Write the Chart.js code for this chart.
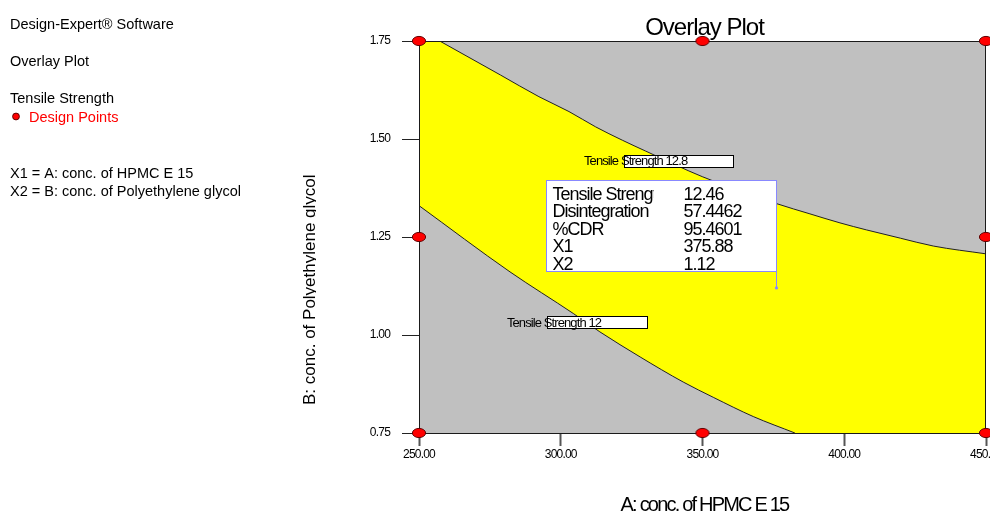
<!DOCTYPE html>
<html>
<head>
<meta charset="utf-8">
<style>
  html, body { margin: 0; padding: 0; background: #ffffff; overflow: hidden; }
  #wrap { width: 990px; height: 513px; position: relative; }
</style>
<script src="https://cdn.jsdelivr.net/npm/chart.js@4.4.1/dist/chart.umd.min.js"></script>
</head>
<body>
<div id="wrap"><canvas id="c" width="990" height="513"></canvas></div>
<script>
// Axis ticks
const xTicks = [250, 300, 350, 400, 450];
const yTicks = [0.75, 1.00, 1.25, 1.50, 1.75];

// Design points (face-centred composite design)
const designX = [250, 350, 450, 250, 350, 450, 250, 350, 450];
const designY = [1.75, 1.75, 1.75, 1.25, 1.25, 1.25, 0.75, 0.75, 0.75];

// Tensile Strength = 12.8 contour (upper bound of the window)
const ts128X = [257.3, 278.8, 292.3, 302.9, 312.3, 321.7, 330.0, 349.9, 376.2, 387.9, 398.5, 407.9, 419.8, 431.4, 450.0];
const ts128Y = [1.750, 1.663, 1.608, 1.570, 1.531, 1.497, 1.469, 1.404, 1.335, 1.309, 1.286, 1.268, 1.247, 1.227, 1.207];

// Tensile Strength = 12 contour (lower bound of the window)
const ts12X = [250.0, 282.1, 304.4, 313.8, 328.0, 343.2, 353.8, 367.9, 382.6];
const ts12Y = [1.330, 1.161, 1.055, 1.008, 0.944, 0.880, 0.841, 0.792, 0.750];

// Flag read-out
const flagNames  = ['Tensile Strength', 'Disintegration', '%CDR', 'X1', 'X2'];
const flagValues = ['12.46', '57.4462', '95.4601', '375.88', '1.12'];

// Contour labels (text, anchor at left/middle of the text in data units)
const contourLabelText = ['Tensile Strength 12.8', 'Tensile Strength 12'];
const contourLabelX = [308.2, 281.0];
const contourLabelY = [1.444, 1.033];

const FONT = "'Liberation Sans', Arial, Helvetica, sans-serif";

function toPoints(xs, ys) { return xs.map((x, i) => ({ x: x, y: ys[i] })); }

// Red elliptical marker used for the design points
function makeMarker() {
  const c = document.createElement('canvas');
  c.width = 16; c.height = 12;
  const g = c.getContext('2d');
  g.beginPath();
  g.ellipse(8, 6, 6.6, 4.6, 0, 0, Math.PI * 2);
  g.fillStyle = '#ff0000';
  g.fill();
  g.lineWidth = 1;
  g.strokeStyle = '#600000';
  g.stroke();
  return c;
}

function drawText(ctx, str, x, y, font, color, align, spacing) {
  ctx.save();
  ctx.font = font;
  ctx.fillStyle = color;
  ctx.textAlign = align || 'left';
  ctx.textBaseline = 'alphabetic';
  if ('letterSpacing' in ctx) ctx.letterSpacing = spacing || '0px';
  ctx.fillText(str, x, y);
  ctx.restore();
}

// Plot background (the feasible window colour) painted under the grey fills
const backgroundPlugin = {
  id: 'windowBackground',
  beforeDatasetsDraw(chart) {
    const a = chart.chartArea, ctx = chart.ctx;
    ctx.save();
    ctx.fillStyle = '#ffff00';
    ctx.fillRect(a.left, a.top, a.right - a.left, a.bottom - a.top);
    ctx.restore();
  },
  beforeDatasetDraw(chart, args) {
    if (args.index !== 0) return;
    // frame of the plot, drawn under the design points
    const a = chart.chartArea, ctx = chart.ctx;
    ctx.save();
    ctx.strokeStyle = '#1a1a1a';
    ctx.lineWidth = 1;
    ctx.strokeRect(a.left + 0.5, a.top + 0.5, a.right - a.left - 1, a.bottom - a.top);
    ctx.restore();
  }
};

// Contour labels and the flag read-out box
const annotationPlugin = {
  id: 'overlayAnnotations',
  afterDatasetsDraw(chart) {
    const ctx = chart.ctx, xs = chart.scales.x, ys = chart.scales.y;

    // contour labels
    const lf = '13px ' + FONT;
    for (let i = 0; i < contourLabelText.length; i++) {
      const tx = xs.getPixelForValue(contourLabelX[i]);
      const ty = ys.getPixelForValue(contourLabelY[i]);
      ctx.save();
      ctx.font = lf;
      if ('letterSpacing' in ctx) ctx.letterSpacing = '-0.9px';
      const w = ctx.measureText(contourLabelText[i]).width;
      ctx.restore();
      const bx = Math.round(tx + 40) + 0.5, by = Math.round(ty - 6) + 0.5;
      const bw = Math.round(w + 6);
      ctx.save();
      ctx.fillStyle = '#ffffff';
      ctx.fillRect(bx, by, bw, 12);
      ctx.strokeStyle = '#000000';
      ctx.lineWidth = 1;
      ctx.strokeRect(bx, by, bw, 12);
      ctx.restore();
      drawText(ctx, contourLabelText[i], tx, ty + 4.5, lf, '#000000', 'left', '-0.9px');
    }

    // flag: stem from the chosen point up to the read-out box
    const fx = xs.getPixelForValue(parseFloat(flagValues[3]));
    const fy = ys.getPixelForValue(parseFloat(flagValues[4]));
    const bw = 230, bh = 91;
    const right = Math.round(fx) + 0.5, bottom = Math.round(fy - 17) + 0.5;
    const left = right - bw, top = bottom - bh;
    ctx.save();
    ctx.strokeStyle = '#8888ff';
    ctx.lineWidth = 1;
    ctx.beginPath();
    ctx.moveTo(right, bottom);
    ctx.lineTo(right, fy);
    ctx.stroke();
    ctx.fillStyle = '#8888ff';
    ctx.beginPath();
    ctx.arc(right, fy, 1.6, 0, Math.PI * 2);
    ctx.fill();
    ctx.fillStyle = '#ffffff';
    ctx.fillRect(left, top, bw, bh);
    ctx.strokeRect(left, top, bw, bh);
    ctx.restore();

    const rf = '18px ' + FONT;
    for (let i = 0; i < flagNames.length; i++) {
      const by = top + 19 + i * 17.5;
      ctx.save();
      ctx.beginPath();
      ctx.rect(left + 1, top + 1, 106, bh - 2);
      ctx.clip();
      drawText(ctx, flagNames[i], left + 6, by, rf, '#000000', 'left', '-1px');
      ctx.restore();
      drawText(ctx, flagValues[i], left + 137, by, rf, '#000000', 'left', '-1px');
    }
  }
};

// Title, axis titles and the side legend
const textPlugin = {
  id: 'overlayTexts',
  beforeDraw(chart) {
    if ('letterSpacing' in chart.ctx) chart.ctx.letterSpacing = '-0.8px';
  },
  afterDraw(chart) {
    const ctx = chart.ctx, a = chart.chartArea;
    const cx = (a.left + a.right) / 2;

    drawText(ctx, 'Overlay Plot', cx + 2, 35, '24px ' + FONT, '#000000', 'center', '-1px');
    drawText(ctx, 'A: conc. of HPMC E 15', cx + 2, 511, '20px ' + FONT, '#000000', 'center', '-1.8px');

    // vertical axis title, clipped at its baseline
    ctx.save();
    ctx.beginPath();
    ctx.rect(0, 0, 316, 513);
    ctx.clip();
    ctx.translate(315, 405);
    ctx.rotate(-Math.PI / 2);
    drawText(ctx, 'B: conc. of Polyethylene glycol', 0, 0, '17px ' + FONT, '#000000', 'left', '0px');
    ctx.restore();

    const sf = '14.5px ' + FONT;
    drawText(ctx, 'Design-Expert\u00AE Software', 10, 29, sf, '#000000');
    drawText(ctx, 'Overlay Plot', 10, 66, sf, '#000000');
    drawText(ctx, 'Tensile Strength', 10, 103, sf, '#000000');
    ctx.save();
    ctx.beginPath();
    ctx.arc(16, 116.5, 3.4, 0, Math.PI * 2);
    ctx.fillStyle = '#ff0000';
    ctx.fill();
    ctx.strokeStyle = '#600000';
    ctx.lineWidth = 1;
    ctx.stroke();
    ctx.restore();
    drawText(ctx, 'Design Points', 29, 122, sf, '#ff0000');
    drawText(ctx, 'X1 = A: conc. of HPMC E 15', 10, 177.5, sf, '#000000');
    drawText(ctx, 'X2 = B: conc. of Polyethylene glycol', 10, 196, sf, '#000000');
  }
};

const marker = makeMarker();

// the plot frame is fixed; tick labels may overhang it
function noOverhang(s) {
  s.paddingLeft = 0; s.paddingRight = 0; s.paddingTop = 0; s.paddingBottom = 0;
}

new Chart(document.getElementById('c').getContext('2d'), {
  type: 'scatter',
  data: {
    datasets: [
      {
        label: 'Design Points',
        data: toPoints(designX, designY),
        pointStyle: marker,
        pointRadius: 7,
        clip: false,
        order: 0
      },
      {
        label: 'Tensile Strength 12.8',
        data: toPoints(ts128X, ts128Y),
        showLine: true,
        fill: 'end',
        backgroundColor: '#c0c0c0',
        borderColor: '#222222',
        borderWidth: 1,
        pointRadius: 0,
        cubicInterpolationMode: 'monotone',
        order: 1
      },
      {
        label: 'Tensile Strength 12',
        data: toPoints(ts12X, ts12Y),
        showLine: true,
        fill: 'start',
        backgroundColor: '#c0c0c0',
        borderColor: '#222222',
        borderWidth: 1,
        pointRadius: 0,
        cubicInterpolationMode: 'monotone',
        order: 1
      }
    ]
  },
  options: {
    responsive: false,
    animation: false,
    events: [],
    layout: { autoPadding: false, padding: { left: 0, right: 4, top: 41, bottom: 0 } },
    scales: {
      x: {
        type: 'linear',
        min: xTicks[0],
        max: xTicks[xTicks.length - 1],
        afterBuildTicks(s) { s.ticks = xTicks.map(v => ({ value: v })); },
        afterFit(s) { s.height = 80; noOverhang(s); },
        border: { display: false },
        grid: { drawOnChartArea: false, drawTicks: true, tickLength: 13, tickColor: '#555555', tickWidth: 2 },
        ticks: {
          padding: 1,
          color: '#000000',
          font: { family: FONT, size: 12 },
          maxRotation: 0,
          autoSkip: false,
          callback: v => Number(v).toFixed(2)
        }
      },
      y: {
        type: 'linear',
        min: yTicks[0],
        max: yTicks[yTicks.length - 1],
        afterBuildTicks(s) { s.ticks = yTicks.map(v => ({ value: v })); },
        afterFit(s) { s.width = 419; noOverhang(s); },
        border: { display: false },
        grid: { drawOnChartArea: false, drawTicks: true, tickLength: 17, tickColor: '#222222', tickWidth: 1 },
        ticks: {
          padding: 12,
          color: '#000000',
          font: { family: FONT, size: 12 },
          callback: v => Number(v).toFixed(2)
        }
      }
    },
    plugins: {
      legend: { display: false },
      tooltip: { enabled: false },
      title: { display: false }
    }
  },
  plugins: [backgroundPlugin, annotationPlugin, textPlugin]
});
</script>
</body>
</html>
